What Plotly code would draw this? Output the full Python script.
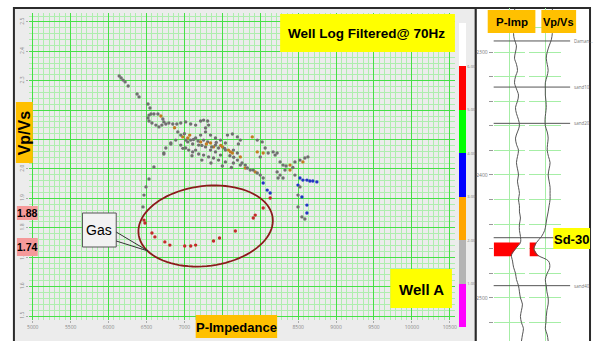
import numpy as np
import plotly.graph_objects as go

W, H = 595, 341

# ---------------- cross-plot data (P-Impedance vs Vp/Vs) ----------------
# facies code: 1.5 grey, 2.5 orange, 3.5 blue, 5.5 red
cp_pimp = [
    6140, 6166, 6192, 6218, 6258, 6376, 6402, 6520, 6546,
    6559, 6533, 6520, 6533, 6572, 6624, 6664, 6703, 6729, 6716, 6690, 6651, 6598,
    6755, 6795, 6847, 6870, 6900, 6952, 7017, 7083, 7148, 7214, 7253, 7306, 7319, 7279,
    6913, 6978, 7044, 6952, 7017, 7083, 7148, 7214, 7253, 7306, 7345, 7384, 7410, 7450,
    7502, 7541, 7581, 7607, 7633, 7646, 7699, 6821, 6755, 6729, 7057, 7109, 7188, 7253,
    7319, 7384, 7450, 7541, 7646, 7738, 7188, 7279, 7345, 7410, 7476, 7568, 7633, 7699,
    7738, 7712, 7044, 7109, 6886, 6952, 7017, 7148, 7214, 7279, 7345, 7410, 7476, 7541,
    7000, 7070, 7120, 7180, 7230, 7290, 7360, 7420, 7480, 7530, 7600, 7650, 7700, 6980,
    7100, 7230, 7350, 7500, 7620, 7760,
    7895, 7961, 8026, 8065, 8105, 8170, 8196, 8223, 7961, 8039, 8000, 7803, 7803, 7869,
    7934, 8000, 8039, 8039, 8092, 8131, 8131, 8262, 8301, 8327, 8262, 8301, 8223, 8393,
    8458, 8524, 8589, 8629, 8563, 8393, 7738, 7830, 7908, 7961, 8236, 8340, 8430,
    8524, 8563, 8616, 8655, 8694, 8747, 8498, 8524, 8498, 8550, 8498, 8616, 8616, 8550,
    8589, 8458,
    6821, 6729, 6598, 6533, 6493, 6467, 6454,
    6467, 6480, 6572, 6611, 6742, 6808, 7004, 7083, 7148, 7384, 7463, 7672, 7908, 7934,
    8039,
]
cp_vpvs = [
    2.316, 2.309, 2.302, 2.296, 2.282, 2.255, 2.245, 2.221, 2.207,
    2.187, 2.183, 2.173, 2.163, 2.156, 2.149, 2.143, 2.149, 2.160, 2.170, 2.180, 2.187, 2.187,
    2.153, 2.156, 2.153, 2.140, 2.153, 2.156, 2.160, 2.153, 2.149, 2.163, 2.166, 2.163, 2.149, 2.139,
    2.126, 2.109, 2.105, 2.115, 2.098, 2.098, 2.105, 2.092, 2.098, 2.092, 2.088, 2.075, 2.081, 2.071,
    2.075, 2.064, 2.064, 2.058, 2.054, 2.064, 2.054, 2.088, 2.071, 2.054, 2.064, 2.058, 2.051, 2.047,
    2.041, 2.037, 2.030, 2.024, 2.020, 2.041, 2.081, 2.075, 2.064, 2.058, 2.047, 2.115, 2.119, 2.109,
    2.098, 2.085, 2.092, 2.085, 2.098, 2.081, 2.071, 2.064, 2.115, 2.126, 2.115, 2.105, 2.098, 2.088,
    2.120, 2.115, 2.100, 2.095, 2.080, 2.085, 2.075, 2.090, 2.080, 2.070, 2.045, 2.040, 2.030, 2.070,
    2.045, 2.030, 2.020, 2.010, 2.005, 2.020,
    2.109, 2.098, 2.092, 2.071, 2.054, 2.058, 2.047, 2.054, 2.058, 2.054, 2.041, 2.013, 2.003, 1.996,
    1.990, 1.979, 1.969, 1.952, 1.928, 1.918, 1.901, 2.024, 2.013, 1.996, 1.979, 1.969, 1.990, 2.013,
    2.024, 2.030, 2.037, 2.041, 2.024, 1.996, 2.013, 2.003, 1.996, 1.986, 1.969, 2.010, 2.005,
    1.969, 1.962, 1.962, 1.959, 1.959, 1.956, 1.945, 1.939, 1.911, 1.905, 1.871, 1.877, 1.850, 1.837,
    1.830, 1.979,
    2.085, 2.051, 2.007, 1.966, 1.939, 1.911, 1.871,
    1.826, 1.816, 1.782, 1.769, 1.752, 1.741, 1.738, 1.738, 1.741, 1.755, 1.765, 1.789, 1.833, 1.843,
    1.867,
]
cp_code = (
    [1.5] * 9
    + [1.5] * 10 + [2.5] + [1.5] * 2
    + [1.5] * 3 + [2.5] + [1.5] * 10
    + [1.5, 2.5, 2.5, 1.5, 1.5, 1.5, 1.5, 2.5, 1.5, 1.5, 2.5, 2.5, 1.5, 1.5]
    + [2.5, 1.5, 2.5, 2.5, 2.5, 1.5, 1.5, 1.5, 1.5, 1.5, 1.5, 1.5, 1.5, 1.5]
    + [1.5, 1.5, 1.5, 1.5, 1.5, 2.5, 1.5, 1.5, 1.5, 1.5, 1.5, 1.5, 1.5, 1.5]
    + [1.5, 1.5, 1.5, 1.5, 1.5, 1.5, 1.5, 1.5, 1.5, 1.5, 1.5, 1.5, 1.5, 1.5]
    + [1.5, 2.5, 1.5, 1.5, 1.5, 2.5, 1.5, 1.5, 2.5, 1.5, 1.5, 1.5, 1.5, 1.5]
    + [1.5, 1.5, 1.5, 1.5, 1.5, 1.5]
    + [2.5, 1.5, 1.5, 1.5, 1.5, 1.5, 1.5, 1.5, 2.5, 2.5, 1.5, 1.5, 2.5, 1.5]
    + [2.5, 1.5, 1.5, 3.5, 3.5, 3.5, 5.5, 1.5, 1.5, 1.5, 1.5, 1.5, 1.5, 2.5]
    + [1.5, 1.5, 1.5, 1.5, 2.5, 2.5, 1.5, 1.5, 1.5, 1.5, 1.5, 1.5, 1.5]
    + [3.5, 3.5, 3.5, 3.5, 3.5, 3.5, 3.5, 1.5, 1.5, 3.5, 1.5, 3.5, 3.5, 1.5]
    + [1.5, 1.5]
    + [1.5] * 7
    + [5.5] * 15
)
# how each facies code is shown as a small point
point_color = {1.5: "#707070", 2.5: "#c27c22", 3.5: "#2235c4", 5.5: "#c42a2a"}

x_ticks = [5000, 5500, 6000, 6500, 7000, 7500, 8000, 8500, 9000, 9500, 10000, 10500]
x_tick_text = ["5000", "5500", "6000", "6500", "7000", "", "", "8500", "9000", "9500", "10000", "10500"]
y_ticks = [1.5, 1.6, 1.7, 1.8, 1.9, 2.0, 2.1, 2.2, 2.3, 2.4, 2.5]
y_tick_text = ["1.5", "1.6", "1.7", "1.8", "1.9", "2.0", "", "", "2.3", "2.4", "2.5"]
facies_ticks = [1, 2, 3, 4, 5, 6]
facies_text = ["1.00", "2.00", "3.00", "4.00", "5.00", "6.00"]

# ---------------- well-log track data (filtered @ 70 Hz) ----------------
depth = [2265, 2270, 2275, 2280, 2285, 2290, 2295, 2300, 2305, 2310, 2315, 2320, 2325, 2330,
         2335, 2340, 2345, 2350, 2355, 2360, 2365, 2370, 2375, 2380, 2385, 2390, 2395, 2400,
         2405, 2410, 2415, 2420, 2425, 2430, 2435, 2440, 2445, 2450, 2455, 2460, 2465, 2470,
         2475, 2480, 2485, 2490, 2495, 2500, 2505, 2510, 2515, 2520, 2525, 2530, 2535]
log_pimp = [8280, 8590, 8750, 8440, 8130, 8280, 8590, 8440, 8280, 8590, 8750, 8440, 8280, 8590,
            8910, 8750, 8440, 8590, 8910, 9060, 8750, 8440, 8590, 8910, 8750, 8590, 8750, 8910,
            8750, 8910, 9060, 8910, 9060, 9060, 9220, 9060, 9060, 9220, 9220, 8440, 7810, 7970,
            8130, 8440, 8590, 8910, 9060, 9220, 9530, 9380, 9220, 9380, 9690, 9530, 9380]
log_vpvs = [2.22, 2.25, 2.25, 2.24, 2.22, 2.19, 2.12, 2.06, 2.03, 2.06, 2.09, 2.05, 2.00, 2.00,
            2.00, 2.02, 2.03, 2.01, 1.99, 2.00, 2.06, 2.09, 2.07, 2.06, 2.10, 2.15, 2.12, 2.09,
            2.12, 2.15, 2.15, 2.15, 2.12, 2.09, 2.05, 2.02, 1.98, 1.88, 1.72, 1.64, 1.75, 2.10,
            2.14, 2.06, 2.00, 2.03, 2.05, 2.09, 2.09, 2.05, 2.03, 2.02, 2.00, 2.06, 2.09]
depth_ticks = [2280, 2300, 2320, 2340, 2360, 2380, 2400, 2420, 2440, 2460, 2480, 2500, 2520]
depth_labels = ["", "2300", "", "", "", "", "2400", "", "", "", "", "2500", ""]
tops_name = ["Daman...", "sand10", "sand20", "sand40"]
tops_depth = [2291, 2328.5, 2358, 2490]
sd30_depth = 2451
gas_top, gas_base = 2455, 2466

PIMP_MIN, PIMP_MAX = 5000, 10000
VPVS_MIN, VPVS_MAX = 1.5, 2.5

FONT = "Liberation Sans, Arial, sans-serif"
GRID_MAJ = "#45e045"
GRID_MIN = "#aeeeae"
TRACK_GRID = "#a6eea6"


def fx(p):
    return p / W


def fy(p):
    return 1 - p / H


fig = go.Figure()

colorscale = [
    [0, "#ff00ff"], [1 / 7, "#ff00ff"],
    [1 / 7, "#b4b4b4"], [2 / 7, "#b4b4b4"],
    [2 / 7, "#ffa500"], [3 / 7, "#ffa500"],
    [3 / 7, "#0000ff"], [4 / 7, "#0000ff"],
    [4 / 7, "#00ff00"], [5 / 7, "#00ff00"],
    [5 / 7, "#ff0000"], [6 / 7, "#ff0000"],
    [6 / 7, "#ffffff"], [1, "#ffffff"],
]

# facies colour bar (legend of the facies code)
fig.add_trace(go.Scatter(
    x=[None], y=[None], mode="markers", xaxis="x", yaxis="y",
    marker=dict(
        color=[0], cmin=0, cmax=7, colorscale=colorscale, showscale=True,
        colorbar=dict(
            x=fx(460), xanchor="left", y=fy(327), yanchor="bottom",
            len=(327 - 23) / H, lenmode="fraction", thickness=7, thicknessmode="pixels",
            outlinewidth=0, xpad=0, ypad=0, ticks="",
            tickvals=facies_ticks, ticktext=facies_text,
            tickfont=dict(size=4, color="#777"),
        ),
    ),
    hoverinfo="skip",
))

fig.add_trace(go.Scatter(
    x=cp_pimp, y=cp_vpvs, mode="markers", xaxis="x", yaxis="y",
    marker=dict(size=3.4, color=[point_color[c] for c in cp_code], line=dict(width=0)),
    hoverinfo="skip",
))

# gas-zone red fills on the well tracks
fine_d = np.linspace(gas_top, gas_base, 30)
pimp_fill = np.interp(fine_d, depth, log_pimp)
vpvs_fill = np.interp(fine_d, depth, log_vpvs)
fig.add_trace(go.Scatter(
    x=[PIMP_MIN] + list(pimp_fill) + [PIMP_MIN], y=[gas_top] + list(fine_d) + [gas_base],
    xaxis="x2", yaxis="y2", mode="lines", fill="toself", fillcolor="#ff0000",
    line=dict(width=0), hoverinfo="skip"))
fig.add_trace(go.Scatter(
    x=[VPVS_MIN] + list(vpvs_fill) + [VPVS_MIN], y=[gas_top] + list(fine_d) + [gas_base],
    xaxis="x3", yaxis="y2", mode="lines", fill="toself", fillcolor="#ff0000",
    line=dict(width=0), hoverinfo="skip"))

fig.add_trace(go.Scatter(
    x=log_pimp, y=depth, xaxis="x2", yaxis="y2", mode="lines",
    line=dict(color="#555", width=1, shape="spline", smoothing=1), hoverinfo="skip"))
fig.add_trace(go.Scatter(
    x=log_vpvs, y=depth, xaxis="x3", yaxis="y2", mode="lines",
    line=dict(color="#555", width=1, shape="spline", smoothing=1), hoverinfo="skip"))

shapes = []
# panel frames
shapes.append(dict(type="rect", xref="paper", yref="paper", x0=fx(12), x1=fx(477), y0=fy(345), y1=fy(8),
                   fillcolor="#ececec", line=dict(color="#2b2b2b", width=2), layer="below"))
shapes.append(dict(type="rect", xref="paper", yref="paper", x0=fx(477), x1=fx(592), y0=fy(345), y1=fy(8),
                   fillcolor="#ffffff", line=dict(color="#2b2b2b", width=2), layer="below"))

# formation tops
for d in tops_depth:
    shapes.append(dict(type="line", xref="paper", yref="y2", x0=fx(495), x1=fx(572), y0=d, y1=d,
                       line=dict(color="#555", width=1)))
shapes.append(dict(type="line", xref="paper", yref="y2", x0=fx(495), x1=fx(592), y0=sd30_depth, y1=sd30_depth,
                   line=dict(color="#555", width=1)))


def box(x0, y0, x1, y1, fill, line=None):
    shapes.append(dict(type="rect", xref="paper", yref="paper", x0=fx(x0), x1=fx(x1), y0=fy(y1), y1=fy(y0),
                       fillcolor=fill, line=line or dict(width=0), layer="above"))


box(280, 14, 456, 52, "#ffff00")
box(14, 102, 31, 163, "#ffc000")
box(15, 206, 36, 220, "#f59a9a")
box(15, 238, 36, 256, "#f59a9a")
box(81, 213, 115, 247, "#f2f2f2", dict(color="#555", width=1))
box(195, 315, 277, 338, "#ffc000")
box(391, 269, 453, 308, "#ffff00")
box(489, 10, 537, 33, "#ffc000")
box(543, 10, 578, 33, "#ffc000")
box(555, 228, 592, 249, "#ffff00")

# gas ellipse (tilted) around the low Vp/Vs points
t = np.linspace(0, 2 * np.pi, 90)
cx, cy, a, b, th = 205, 226, 68, 40, np.deg2rad(-7)
ex = cx + a * np.cos(t) * np.cos(th) - b * np.sin(t) * np.sin(th)
ey = cy + a * np.cos(t) * np.sin(th) + b * np.sin(t) * np.cos(th)
path = "M " + " L ".join(f"{fx(u):.5f},{fy(v):.5f}" for u, v in zip(ex, ey)) + " Z"
shapes.append(dict(type="path", xref="paper", yref="paper", path=path,
                   line=dict(color="#8b1a1a", width=1.8), layer="above"))
# callout from "Gas" box
shapes.append(dict(type="path", xref="paper", yref="paper",
                   path=f"M {fx(115)},{fy(232)} L {fx(147)},{fy(251)} L {fx(115)},{fy(241)}",
                   line=dict(color="#333", width=1), layer="above"))

annotations = []


def label(text, x, y, size, bold=True, angle=0, color="#000"):
    annotations.append(dict(
        text=f"<b>{text}</b>" if bold else text, x=fx(x), y=fy(y), xref="paper", yref="paper",
        showarrow=False, textangle=angle, xanchor="center", yanchor="middle",
        font=dict(family=FONT, size=size, color=color)))


label("Well Log Filtered@ 70Hz", 367, 33, 13.5)
label("Vp/Vs", 22.5, 133, 16, angle=-90)
label("1.88", 25.5, 213, 10.5)
label("1.74", 25.5, 247, 10.5)
label("Gas", 98, 230, 14, bold=False)
label("P-Impedance", 236, 327, 13)
label("Well A", 422, 289, 15)
label("P-Imp", 513, 22, 11.5)
label("Vp/Vs", 560.5, 22, 11)
label("Sd-30", 573.5, 239, 13)

for name, d in zip(tops_name, tops_depth):
    annotations.append(dict(text=name, x=fx(574), y=d, xref="paper", yref="y2", showarrow=False,
                            xanchor="left", yanchor="middle", font=dict(size=4.5, color="#777")))

fig.update_layout(
    width=W, height=H, margin=dict(l=0, r=0, t=0, b=0),
    paper_bgcolor="#ffffff", plot_bgcolor="rgba(0,0,0,0)", showlegend=False,
    shapes=shapes, annotations=annotations,
    xaxis=dict(domain=[fx(27), fx(456)], range=[4948, 10568], anchor="y",
               tickmode="array", tickvals=x_ticks, ticktext=x_tick_text,
               tickfont=dict(size=5, color="#888"), ticks="outside", ticklen=2, tickcolor="#aaa",
               showgrid=True, gridcolor=GRID_MAJ, gridwidth=1.3, zeroline=False, showline=False,
               minor=dict(tickmode="array",
                          tickvals=[5000 + k * 500 / 7 for k in range(-1, 80)],
                          showgrid=True, gridcolor=GRID_MIN, gridwidth=1, ticks="")),
    yaxis=dict(domain=[fy(320), fy(13)], range=[1.4864, 2.5302], anchor="x",
               tickmode="array", tickvals=y_ticks, ticktext=y_tick_text,
               tickangle=-90, tickfont=dict(size=5, color="#888"), ticks="outside", ticklen=2,
               tickcolor="#aaa", showgrid=True, gridcolor=GRID_MAJ, gridwidth=1.3, zeroline=False,
               minor=dict(tickmode="array", tickvals=[round(1.48 + k * 0.02, 3) for k in range(54)],
                          showgrid=True, gridcolor=GRID_MIN, gridwidth=1, ticks="")),
    xaxis2=dict(domain=[fx(495), fx(527)], range=[PIMP_MIN - 10, PIMP_MAX + 10], anchor="y2",
                tickvals=[5000, 7500, 10000], showticklabels=False, ticks="",
                showgrid=True, gridcolor=TRACK_GRID, gridwidth=1, zeroline=False),
    xaxis3=dict(domain=[fx(531), fx(563)], range=[VPVS_MIN - 0.002, VPVS_MAX + 0.002], anchor="y2",
                tickvals=[1.5, 2.0, 2.5], showticklabels=False, ticks="",
                showgrid=True, gridcolor=TRACK_GRID, gridwidth=1, zeroline=False),
    yaxis2=dict(domain=[0, fy(8)], range=[2535, 2264.2], anchor="x2",
                tickmode="array", tickvals=depth_ticks, ticktext=depth_labels,
                ticks="outside", ticklen=4, tickcolor="#999", tickfont=dict(size=5, color="#777"),
                showgrid=True, gridcolor=TRACK_GRID, gridwidth=1, zeroline=False),
)

fig.write_html("out.html")
